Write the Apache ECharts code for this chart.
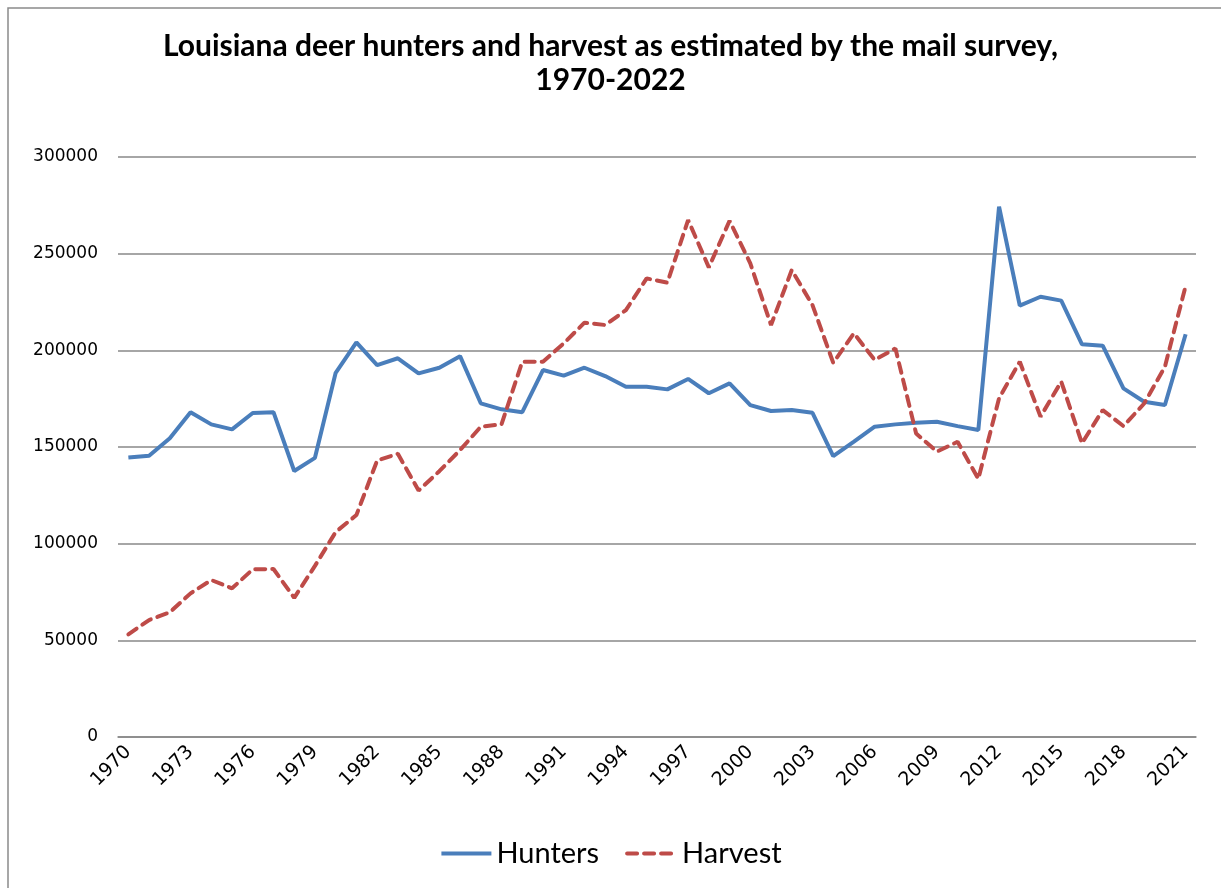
<!DOCTYPE html>
<html><head><meta charset="utf-8">
<script src="https://cdn.jsdelivr.net/npm/echarts@6/dist/echarts.min.js"></script>
<style>html,body{margin:0;padding:0;background:#fff}#c{width:1221px;height:888px}</style>
</head><body><div id="c"></div>
<script>
const years = [];
for (let y = 1970; y <= 2021; y++) years.push(String(y));
const hunters = [144600,145500,154500,168000,161700,159100,167600,168000,137600,144400,
  188400,204100,192400,195900,188100,191000,197000,172600,169500,168000,
  189800,186900,191000,186700,181200,181200,179800,185200,177800,182900,
  171700,168600,169100,167700,145300,152800,160500,161700,162600,163100,
  160800,158800,274300,223100,227700,225700,203100,202400,180300,173400,
  171700,208300];
const harvest = [53100,60500,64500,74300,81200,76900,86700,86900,72000,88500,
  106000,114800,143000,146500,127500,137500,148400,160500,161700,194100,
  194100,203600,214300,213100,220800,237200,235000,267400,242900,267000,
  245000,213100,241500,223400,193600,208800,195000,201000,157000,147600,
  152700,133500,175200,194100,165700,183800,151900,169100,160800,172500,
  191500,233300];
const yTicks = [0, 50000, 100000, 150000, 200000, 250000, 300000];

const chart = echarts.init(document.getElementById('c'));
chart.setOption({
  animation: false,
  backgroundColor: '#fff',
  title: {
    text: 'Louisiana deer hunters and harvest as estimated by the mail survey,\n1970-2022',
    left: 'center', top: 24,
    textStyle: {fontFamily: 'Lato', fontWeight: 'bold', fontSize: 30, color: '#000', lineHeight: 34}
  },
  graphic: [{type: 'rect', shape: {x: 8, y: 8, width: 1260, height: 920},
    style: {fill: 'none', stroke: '#8a8a8a', lineWidth: 1.5}, silent: true}],
  legend: {
    bottom: 15, left: 'center', itemWidth: 50, itemHeight: 14, itemGap: 26,
    itemStyle: {opacity: 0},
    lineStyle: {width: 4},
    textStyle: {fontFamily: 'Lato', fontSize: 29, color: '#000'},
    data: ['Hunters', 'Harvest']
  },
  grid: {left: 118, right: 25, top: 157, bottom: 151},
  xAxis: {
    type: 'category', data: years, boundaryGap: true,
    axisLine: {lineStyle: {color: '#888', width: 1.5}},
    axisTick: {show: false},
    axisLabel: {interval: 2, rotate: 45, fontFamily: 'DejaVu Sans', fontSize: 19, color: '#000', margin: 12}
  },
  yAxis: {
    type: 'value', min: yTicks[0], max: yTicks[yTicks.length - 1], interval: 50000,
    axisLine: {show: false}, axisTick: {show: false},
    splitLine: {lineStyle: {color: '#888', width: 1.5}},
    axisLabel: {fontFamily: 'DejaVu Sans', fontSize: 17, color: '#000', margin: 20,
      formatter: v => String(v)}
  },
  series: [
    {name: 'Hunters', type: 'line', data: hunters, symbol: 'none',
     lineStyle: {color: '#4A7EBB', width: 4}, itemStyle: {color: '#4A7EBB'}},
    {name: 'Harvest', type: 'line', data: harvest, symbol: 'none',
     lineStyle: {color: '#BE4B48', width: 4, type: [10, 7], cap: 'round'}, itemStyle: {color: '#BE4B48'}}
  ]
});
</script></body></html>
